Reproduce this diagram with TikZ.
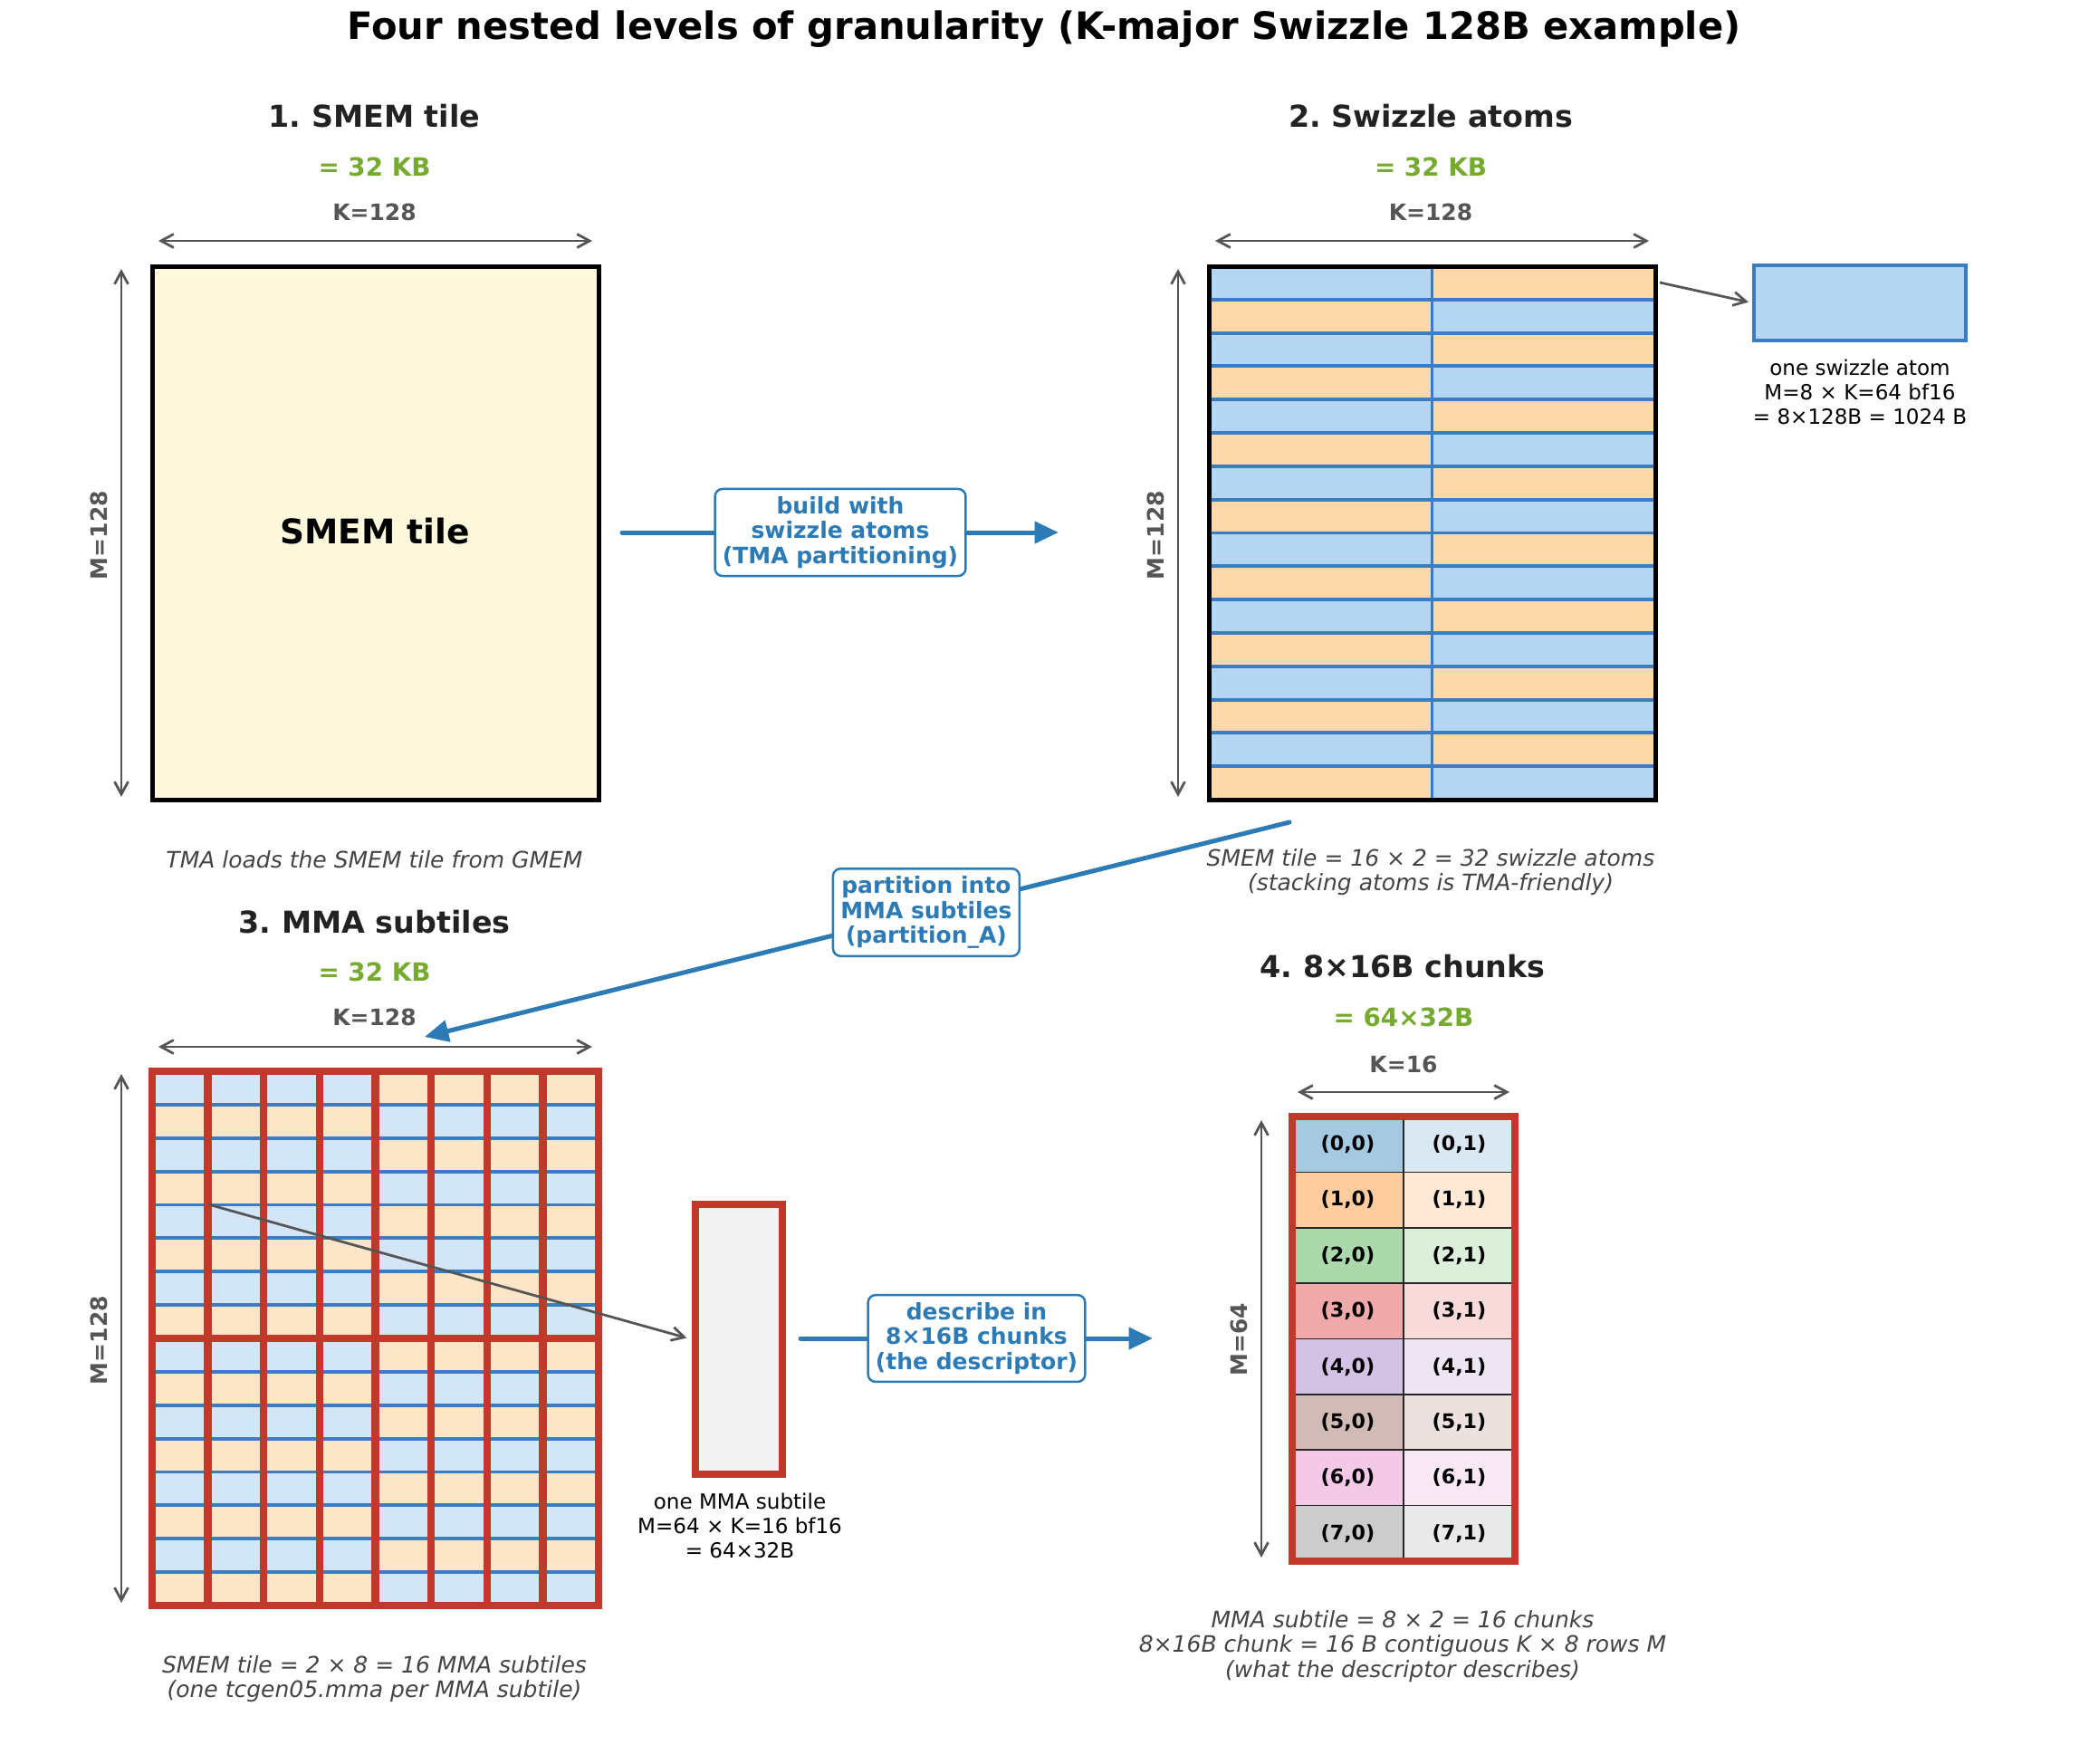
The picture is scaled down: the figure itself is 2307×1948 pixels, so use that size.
\documentclass[tikz,border=0pt]{standalone}
\usepackage{fontspec}
\setmainfont{DejaVu Sans}[ItalicFont={DejaVu Sans Oblique},BoldFont={DejaVu Sans Bold},BoldItalicFont={DejaVu Sans Bold Oblique}]
\usetikzlibrary{arrows.meta}
\frenchspacing
\definecolor{ink}{HTML}{222222}
\definecolor{dimc}{HTML}{555555}
\definecolor{capc}{HTML}{444444}
\definecolor{kbgreen}{HTML}{76AB2F}
\definecolor{flow}{HTML}{2C7BB6}
\definecolor{cream}{HTML}{FDF7DC}
\definecolor{atomblue}{HTML}{B5D6F2}
\definecolor{atomorange}{HTML}{FDD8A8}
\definecolor{edgeblue}{HTML}{3A7DC4}
\definecolor{lblue}{HTML}{D3E6F7}
\definecolor{lorange}{HTML}{FDE6C8}
\definecolor{subred}{HTML}{C0392B}
\definecolor{subfill}{HTML}{F2F2F2}
\definecolor{tabblue}{HTML}{1F77B4}
\definecolor{taborange}{HTML}{FF7F0E}
\definecolor{tabgreen}{HTML}{2CA02C}
\definecolor{tabred}{HTML}{D62728}
\definecolor{tabpurple}{HTML}{9467BD}
\definecolor{tabbrown}{HTML}{8C564B}
\definecolor{tabpink}{HTML}{E377C2}
\definecolor{tabgray}{HTML}{7F7F7F}
\newcommand\myfs[2]{\fontsize{#1}{#2}\selectfont}
\begin{document}
\begin{tikzpicture}[x=0.36pt, y=-0.36pt,
  maintitle/.style={font=\bfseries\myfs{15}{18}, text=black, inner sep=0},
  paneltitle/.style={font=\bfseries\myfs{12}{14}, text=ink, inner sep=0},
  kb/.style={font=\bfseries\myfs{10}{12}, text=kbgreen, inner sep=0},
  dimlabel/.style={font=\bfseries\myfs{9}{11}, text=dimc, inner sep=0},
  dimarrow/.style={draw=dimc, line width=1pt, {Straight Barb[length=5pt,width=5.4pt]}-{Straight Barb[length=5pt,width=5.4pt]}},
  caption/.style={font=\itshape\myfs{9}{10}, text=capc, align=center, inner sep=0},
  note/.style={font=\myfs{8.3}{9.6}, text=black, align=center, inner sep=0},
  flowarrow/.style={draw=flow, line width=1.8pt, line cap=round, -{Triangle[length=9.5pt,width=8.5pt]}},
  flowlabel/.style={draw=flow, fill=white, rounded corners=3pt, line width=0.9pt, text=flow, font=\bfseries\myfs{9}{9.9}, align=center, inner sep=3pt},
  pointer/.style={draw=dimc, line width=1pt, -{Straight Barb[length=5pt,width=5.4pt]}},
  tilebox/.style={draw=black, line width=1.8pt, inner sep=0, outer sep=0},
  chunklabel/.style={font=\bfseries\myfs{8}{9.6}, text=black, inner sep=0}
]
\useasboundingbox (0,0) rectangle (2307,1948);

% title
\node[maintitle] (title) at (1153,32) {Four nested levels of granularity (K-major Swizzle 128B example)};

% ---------------- Panel 1 ----------------
\node[paneltitle] (t1) at (413.5,128) {1. SMEM tile};
\node[kb] (kb1) at (413.5,184) {= 32 KB};
\node[dimlabel] (k1) at (413.5,234) {K=128};
\draw[dimarrow] (175,266) -- (654,266);
\draw[dimarrow] (134,297) -- (134,880);
\node[dimlabel, rotate=90] (m1) at (109,591) {M=128};
\node[tilebox, fill=cream, minimum width=177.48pt, minimum height=212.04pt] (tile1) at (414.5,588.5) {};
\node[font=\bfseries\myfs{13.5}{16}, text=black, inner sep=0] (tile1lab) at (414,587) {SMEM tile};
\node[caption] (cap1) at (413.5,949) {TMA loads the SMEM tile from GMEM};

% ---------------- Panel 2 ----------------
\node[paneltitle] (t2) at (1580,128) {2. Swizzle atoms};
\node[kb] (kb2) at (1580,184) {= 32 KB};
\node[dimlabel] (k2) at (1580,234) {K=128};
\draw[dimarrow] (1342,266) -- (1821,266);
\draw[dimarrow] (1301,297) -- (1301,880);
\node[dimlabel, rotate=90] (m2) at (1276,591) {M=128};
\foreach \r in {0,2,...,14} {
  \fill[atomblue] (1335,{294+\r*36.8125}) rectangle (1581.5,{294+(\r+1)*36.8125});
  \fill[atomorange] (1581.5,{294+\r*36.8125}) rectangle (1828,{294+(\r+1)*36.8125});
}
\foreach \r in {1,3,...,15} {
  \fill[atomorange] (1335,{294+\r*36.8125}) rectangle (1581.5,{294+(\r+1)*36.8125});
  \fill[atomblue] (1581.5,{294+\r*36.8125}) rectangle (1828,{294+(\r+1)*36.8125});
}
\foreach \r in {1,...,15}
  \draw[edgeblue, line width=1.4pt] (1335,{294+\r*36.8125}) -- (1828,{294+\r*36.8125});
\draw[edgeblue, line width=1.4pt] (1581.5,294) -- (1581.5,883);
\node[tilebox, minimum width=177.48pt, minimum height=212.04pt] (tile2) at (1581.5,588.5) {};
\node[caption] (cap2) at (1580,963) {SMEM tile = 16 × 2 = 32 swizzle atoms\\(stacking atoms is TMA-friendly)};

% one swizzle atom
\node[draw=edgeblue, fill=atomblue, line width=1.4pt, inner sep=0, minimum width=84.24pt, minimum height=29.88pt] (atom) at (2054,334.5) {};
\node[note] (atomnote) at (2054,433) {one swizzle atom\\M=8 × K=64 bf16\\= 8×128B = 1024 B};
\coordinate (atomsrc) at (1833,312);
\draw[pointer, shorten >=1.5pt] (atomsrc) -- (atom.west);

% ---------------- arrow 1 ----------------
\coordinate (f1s) at (687,588);
\coordinate (f1e) at (1169,588);
\draw[flowarrow] (f1s) -- node[flowlabel] (lab1) {build with\\swizzle atoms\\(TMA partitioning)} (f1e);

% ---------------- Panel 3 ----------------
\node[paneltitle] (t3) at (413.5,1018) {3. MMA subtiles};
\node[kb] (kb3) at (413.5,1073) {= 32 KB};
\node[dimlabel] (k3) at (413.5,1123) {K=128};
\draw[dimarrow] (175,1156) -- (654,1156);
\draw[dimarrow] (134,1186) -- (134,1770);
\node[dimlabel, rotate=90] (m3) at (109,1480) {M=128};
\foreach \r in {0,...,15} {
  \foreach \c in {0,...,7} {
    \pgfmathtruncatemacro\kpar{mod(\r+int(\c/4),2)}
    \ifnum\kpar=0 \def\cellcol{lblue}\else\def\cellcol{lorange}\fi
    \fill[\cellcol] ({168+\c*61.625},{1183+\r*36.875}) rectangle ++(61.625,36.875);
  }
}
\foreach \r in {1,...,15}
  \draw[edgeblue, line width=1.4pt] (168,{1183+\r*36.875}) -- (661,{1183+\r*36.875});
\foreach \c in {0,...,7} {
  \foreach \r in {0,1} {
    \draw[subred, line width=3pt] ({168+\c*61.625},{1183+\r*295}) rectangle ++(61.625,295);
  }
}
\node[inner sep=0, minimum width=177.48pt, minimum height=212.4pt] (tile3) at (414.5,1478) {};
\node[caption] (cap3) at (413.5,1854) {SMEM tile = 2 × 8 = 16 MMA subtiles\\(one tcgen05.mma per MMA subtile)};

% one MMA subtile
\node[draw=subred, fill=subfill, line width=3pt, inner sep=0, minimum width=34.56pt, minimum height=107.28pt] (sub) at (816,1479) {};
\node[note] (subnote) at (817,1685) {one MMA subtile\\M=64 × K=16 bf16\\= 64×32B};
\coordinate (subsrc) at (230,1330);
\draw[pointer, shorten >=2pt] (subsrc) -- (sub.west);

% ---------------- arrow 2 ----------------
\coordinate (f2s) at (1424,908);
\coordinate (f2e) at (469,1145);
\draw[flowarrow] (f2s) -- node[flowlabel, pos=0.42] (lab2) {partition into\\MMA subtiles\\(partition\_A)} (f2e);

% ---------------- arrow 3 ----------------
\coordinate (f3s) at (884,1478);
\coordinate (f3e) at (1273,1478);
\draw[flowarrow] (f3s) -- node[flowlabel] (lab3) {describe in\\8×16B chunks\\(the descriptor)} (f3e);

% ---------------- Panel 4 ----------------
\node[paneltitle] (t4) at (1549,1067) {4. 8×16B chunks};
\node[kb] (kb4) at (1550,1123) {= 64×32B};
\node[dimlabel] (k4) at (1550,1175) {K=16};
\draw[dimarrow] (1433,1206) -- (1667,1206);
\draw[dimarrow] (1393,1237) -- (1393,1720);
\node[dimlabel, rotate=90] (m4) at (1368,1479) {M=64};
\foreach \cname [count=\i from 0] in {tabblue,taborange,tabgreen,tabred,tabpurple,tabbrown,tabpink,tabgray} {
  \fill[\cname!40!white] (1427,{1233+\i*61.375}) rectangle (1550,{1233+(\i+1)*61.375});
  \fill[\cname!17!white] (1550,{1233+\i*61.375}) rectangle (1673,{1233+(\i+1)*61.375});
  \node[chunklabel] (c\i0) at (1488.5,{1233+(\i+0.5)*61.375}) {(\i,0)};
  \node[chunklabel] (c\i1) at (1611.5,{1233+(\i+0.5)*61.375}) {(\i,1)};
}
\foreach \i in {1,...,7}
  \draw[black!85, line width=0.6pt] (1427,{1233+\i*61.375}) -- (1673,{1233+\i*61.375});
\draw[black!85, line width=0.6pt] (1550,1233) -- (1550,1724);
\node[draw=subred, line width=2.8pt, inner sep=0, minimum width=88.56pt, minimum height=176.76pt] (chunks) at (1550,1478.5) {};
\node[caption] (cap4) at (1549,1818) {MMA subtile = 8 × 2 = 16 chunks\\8×16B chunk = 16 B contiguous K × 8 rows M\\(what the descriptor describes)};
\end{tikzpicture}
\end{document}
